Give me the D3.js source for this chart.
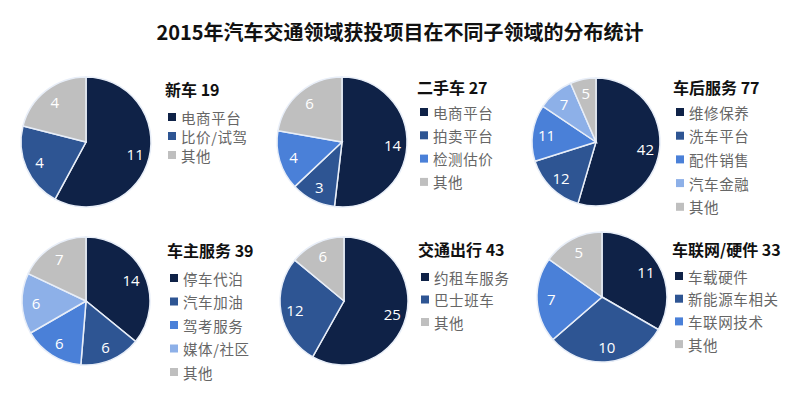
<!DOCTYPE html>
<html><head><meta charset="utf-8">
<script src="https://cdn.jsdelivr.net/npm/d3@7/dist/d3.min.js"></script>
<style>
body{margin:0;background:#fff;}
svg{display:block;}
</style></head>
<body>
<svg id="chart" width="800" height="397"></svg>
<script>
// ---- data ----
const chartTitle = "2015年汽车交通领域获投项目在不同子领域的分布统计";
const groupNames = ["新车", "二手车", "车后服务", "车主服务", "交通出行", "车联网/硬件"];
const groupTotals = [19, 27, 77, 39, 43, 33];
const cat1 = ["电商平台", "比价/试驾", "其他"];
const val1 = [11, 4, 4];
const cat2 = ["电商平台", "拍卖平台", "检测估价", "其他"];
const val2 = [14, 3, 4, 6];
const cat3 = ["维修保养", "洗车平台", "配件销售", "汽车金融", "其他"];
const val3 = [42, 12, 11, 7, 5];
const cat4 = ["停车代泊", "汽车加油", "驾考服务", "媒体/社区", "其他"];
const val4 = [14, 6, 6, 6, 7];
const cat5 = ["约租车服务", "巴士班车", "其他"];
const val5 = [25, 12, 6];
const cat6 = ["车载硬件", "新能源车相关", "车联网技术", "其他"];
const val6 = [11, 10, 7, 5];

// colours per slice index; "其他" always gray
const palette = ["#0f2247", "#2e5593", "#4a80d8", "#8db0e8"];
const otherColor = "#bfbfbf";

// ---- layout ----
const panels = [
  {cx: 86,  cy: 142, r: 65, lx: 165, ty: 89,  iy: 117, step: 19},
  {cx: 342, cy: 142, r: 65, lx: 417, ty: 87,  iy: 112, step: 23.3},
  {cx: 596, cy: 142, r: 64, lx: 673, ty: 87,  iy: 112, step: 23.7},
  {cx: 86,  cy: 301, r: 64, lx: 167, ty: 250, iy: 278, step: 23.5},
  {cx: 344, cy: 301, r: 64, lx: 418, ty: 249, iy: 277, step: 22.5},
  {cx: 602, cy: 297, r: 65, lx: 672, ty: 249, iy: 276, step: 22.7}
];
const cats = [cat1, cat2, cat3, cat4, cat5, cat6];
const vals = [val1, val2, val3, val4, val5, val6];

const svg = d3.select("#chart");
const font = "'Noto Sans CJK SC', 'Noto Sans', sans-serif";

svg.append("text")
  .attr("x", 400).attr("y", 31)
  .attr("text-anchor", "middle").attr("dominant-baseline", "central")
  .attr("font-family", font).attr("font-weight", "bold").attr("font-size", 20)
  .attr("fill", "#111").text(chartTitle);

const pie = d3.pie().sort(null).value(d => d.v);

panels.forEach((p, gi) => {
  const data = cats[gi].map((c, i) => ({c, v: vals[gi][i], i}));
  const color = d => d.c === "其他" ? otherColor : palette[d.i];
  const g = svg.append("g").attr("transform", `translate(${p.cx},${p.cy})`);
  const arc = d3.arc().innerRadius(0).outerRadius(p.r);
  const labelArc = d3.arc().innerRadius(p.r * 0.78).outerRadius(p.r * 0.78);
  const arcs = pie(data);
  g.selectAll("path").data(arcs).join("path")
    .attr("d", arc)
    .attr("fill", d => color(d.data))
    .attr("stroke", "#e8eef8").attr("stroke-width", 1.5);
  g.selectAll("text").data(arcs).join("text")
    .attr("transform", d => `translate(${labelArc.centroid(d)})`)
    .attr("text-anchor", "middle").attr("dominant-baseline", "central")
    .attr("font-family", "'Open Sans', 'Noto Sans', sans-serif")
    .attr("font-size", 15)
    .attr("fill", "#fff")
    .text(d => d.data.v);

  // legend
  const lg = svg.append("g");
  lg.append("text")
    .attr("x", p.lx).attr("y", p.ty)
    .attr("dominant-baseline", "central")
    .attr("font-family", font).attr("font-weight", "bold").attr("font-size", 16)
    .attr("fill", "#111")
    .text(groupNames[gi] + " " + groupTotals[gi]);
  const items = lg.selectAll("g.item").data(data).join("g")
    .attr("class", "item")
    .attr("transform", (d, i) => `translate(${p.lx}, ${p.iy + i * p.step})`);
  items.append("rect")
    .attr("x", 3).attr("y", -4).attr("width", 8).attr("height", 8)
    .attr("fill", d => color(d));
  items.append("text")
    .attr("x", 16).attr("y", 0)
    .attr("dominant-baseline", "central")
    .attr("font-family", font).attr("font-size", 14.5)
    .attr("letter-spacing", 0.6)
    .attr("fill", "#666")
    .text(d => d.c);
});
</script>
</body></html>
